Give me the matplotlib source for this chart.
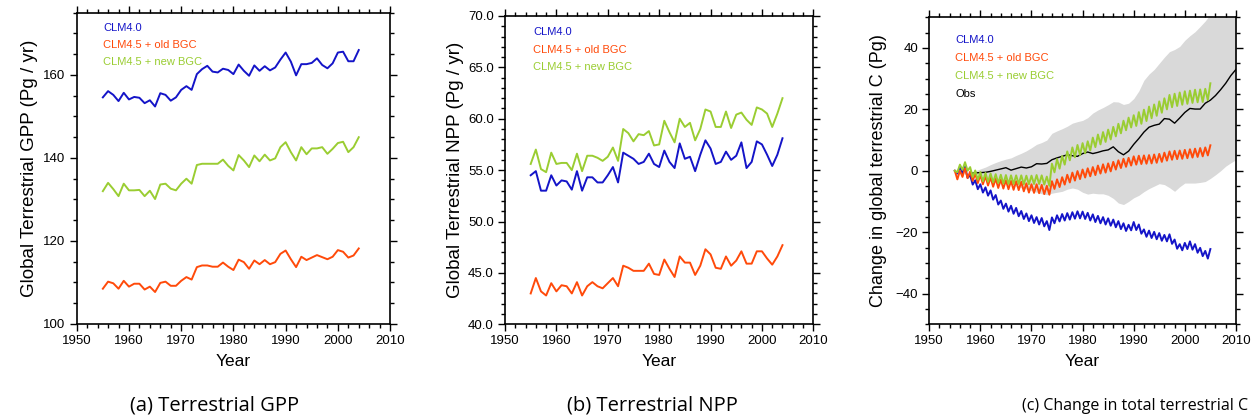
import numpy as np
import matplotlib.pyplot as plt
from matplotlib.ticker import MultipleLocator, FormatStrFormatter

plt.rcParams['font.family'] = ['Liberation Sans', 'DejaVu Sans']

# colores de las tres simulaciones
c_clm40 = '#1414c8'
c_old = '#ff4a0a'
c_new = '#9acd32'

# (a) y (b): valores anuales 1955-2004
years_ab = list(range(1955, 2005))

gpp_clm40 = [154.6, 156.1, 155.2, 153.7, 155.7, 154.1, 154.7, 154.5, 153.2, 153.9,
             152.4, 155.6, 155.2, 153.8, 154.6, 156.4, 157.3, 156.4, 160.2, 161.4,
             162.2, 160.8, 160.6, 161.5, 161.2, 160.2, 162.5, 161.0, 159.8, 162.3,
             161.0, 162.1, 161.1, 161.8, 163.7, 165.4, 163.2, 159.9, 162.6, 162.6,
             162.9, 164.0, 162.4, 161.6, 162.8, 165.4, 165.6, 163.3, 163.3, 166.0]
gpp_old = [108.5, 110.2, 109.8, 108.5, 110.4, 109.0, 109.7, 109.7, 108.3, 109.0,
           107.7, 109.9, 110.2, 109.2, 109.2, 110.4, 111.3, 110.7, 113.7, 114.1,
           114.1, 113.8, 113.8, 114.8, 113.8, 113.0, 115.5, 114.9, 113.3, 115.3,
           114.4, 115.4, 114.4, 114.9, 116.9, 117.7, 115.6, 113.7, 116.2, 115.4,
           116.0, 116.6, 116.1, 115.6, 116.2, 117.8, 117.4, 116.0, 116.5, 118.2]
gpp_new = [132.0, 134.0, 132.5, 130.8, 133.8, 132.2, 132.2, 132.3, 130.8, 132.1,
           130.1, 133.6, 133.8, 132.6, 132.2, 133.8, 135.0, 133.8, 138.3, 138.6,
           138.6, 138.6, 138.6, 139.6, 138.1, 137.0, 140.7, 139.4, 137.8, 140.6,
           139.2, 140.8, 139.4, 139.9, 142.6, 143.8, 141.4, 139.4, 142.6, 140.9,
           142.3, 142.3, 142.6, 141.0, 142.2, 143.6, 143.9, 141.4, 142.6, 145.0]

npp_clm40 = [54.5, 54.9, 53.0, 53.0, 54.5, 53.5, 54.0, 53.9, 53.1, 54.9,
             53.0, 54.3, 54.3, 53.8, 53.8, 54.5, 55.3, 53.8, 56.7, 56.4,
             56.1, 55.6, 55.8, 56.6, 55.6, 55.3, 56.9, 55.8, 55.2, 57.6,
             56.1, 56.3, 54.9, 56.5, 57.9, 57.1, 55.6, 55.8, 56.8, 56.0,
             56.4, 57.7, 55.2, 55.8, 57.8, 57.5, 56.5, 55.4, 56.5, 58.1]
npp_old = [43.0, 44.5, 43.2, 42.8, 44.0, 43.2, 43.8, 43.7, 43.0, 44.1,
           42.8, 43.7, 44.1, 43.7, 43.5, 44.0, 44.5, 43.7, 45.7, 45.5,
           45.2, 45.2, 45.2, 45.9, 44.9, 44.8, 46.3, 45.4, 44.6, 46.6,
           46.0, 46.0, 44.8, 45.7, 47.3, 46.8, 45.5, 45.4, 46.6, 45.7,
           46.2, 47.1, 45.9, 45.9, 47.1, 47.1, 46.4, 45.8, 46.6, 47.7]
npp_new = [55.6, 57.0, 55.1, 54.8, 56.7, 55.6, 55.7, 55.7, 55.0, 56.6,
           54.9, 56.4, 56.4, 56.2, 55.9, 56.3, 57.2, 55.9, 59.0, 58.6,
           57.8, 58.5, 58.4, 58.8, 57.4, 57.5, 59.8, 58.7, 57.7, 60.0,
           59.2, 59.6, 57.9, 59.0, 60.9, 60.7, 59.2, 59.2, 60.7, 59.1,
           60.4, 60.6, 59.9, 59.4, 61.1, 60.9, 60.5, 59.2, 60.5, 62.0]

# (c): cambio en C terrestre, dos valores por anio (1955.0 ... 2005.0)
time_c = np.arange(1955, 2005.01, 0.5)

dc_clm40 = [0.0, -0.9, 1.3, -0.8, 1.3, -2.3, -1.4, -4.5, -3.1, -6.0,
            -4.4, -7.1, -5.4, -8.1, -6.4, -9.4, -7.9, -11.0, -9.7, -12.4,
            -10.7, -13.3, -11.4, -14.0, -12.1, -14.8, -13.1, -15.7, -13.9, -16.4,
            -14.5, -17.0, -15.1, -17.5, -15.4, -18.1, -16.4, -19.3, -15.2, -17.1,
            -14.5, -16.5, -14.1, -16.2, -13.8, -15.9, -13.5, -15.6, -13.2, -15.5,
            -13.3, -15.7, -13.7, -16.2, -14.2, -16.7, -14.7, -17.1, -15.1, -17.5,
            -15.5, -17.9, -15.9, -18.4, -16.4, -19.0, -17.1, -19.6, -17.6, -19.4,
            -16.7, -19.3, -17.5, -20.5, -19.1, -21.5, -19.5, -21.9, -19.9, -22.3,
            -20.3, -22.8, -20.9, -23.0, -20.7, -23.8, -22.4, -25.4, -23.9, -25.9,
            -23.5, -25.5, -23.0, -25.7, -23.9, -26.7, -25.1, -27.8, -26.1, -28.6,
            -25.5]
dc_old = [0.0, -2.8, 0.0, -2.0, 0.8, -2.4, -0.3, -3.3, -0.9, -4.0,
          -1.4, -4.4, -1.8, -4.8, -2.2, -5.2, -2.6, -5.6, -2.9, -5.8,
          -3.1, -6.0, -3.3, -6.2, -3.4, -6.3, -3.6, -6.7, -4.1, -7.1,
          -4.4, -7.2, -4.4, -7.3, -4.6, -7.6, -4.9, -7.8, -3.4, -5.9,
          -2.8, -5.3, -2.1, -4.5, -1.3, -3.8, -0.6, -3.2, -0.1, -2.7,
          0.4, -2.2, 0.8, -1.8, 1.2, -1.4, 1.7, -0.9, 2.1, -0.6,
          2.4, -0.2, 2.9, 0.4, 3.4, 0.9, 3.9, 1.3, 4.2, 1.7,
          4.7, 2.0, 4.9, 2.2, 5.0, 2.3, 5.1, 2.4, 5.3, 2.6,
          5.5, 2.9, 5.9, 3.3, 6.3, 3.6, 6.5, 3.8, 6.6, 3.9,
          6.8, 4.1, 7.0, 4.3, 7.2, 4.5, 7.4, 4.7, 7.6, 5.0,
          8.3]
dc_new = [0.0, -0.5, 2.0, 0.3, 2.8, 0.0, 1.2, -2.0, 0.1, -2.9,
          -0.4, -3.4, -0.7, -3.6, -0.9, -3.8, -1.1, -4.0, -1.3, -4.2,
          -1.4, -4.3, -1.5, -4.3, -1.5, -4.3, -1.5, -4.4, -1.6, -4.4,
          -1.6, -4.3, -1.4, -4.3, -1.5, -4.5, -1.9, -4.9, 2.3, -0.5,
          3.8, 0.7, 4.8, 2.0, 6.3, 3.4, 7.6, 4.4, 8.4, 5.1,
          9.0, 5.7, 9.6, 6.6, 10.8, 7.7, 11.8, 8.6, 12.6, 9.4,
          13.4, 10.2, 14.3, 11.2, 15.3, 12.2, 16.3, 13.2, 17.3, 14.1,
          18.1, 14.6, 19.1, 15.3, 19.9, 16.2, 20.9, 17.1, 21.6, 17.9,
          22.6, 18.9, 23.6, 20.0, 24.7, 20.7, 25.1, 21.1, 25.5, 21.5,
          25.9, 21.8, 26.1, 22.1, 26.4, 22.3, 26.5, 22.4, 26.7, 23.0,
          28.5]

# observaciones y su banda de incertidumbre, 1958-2010
years_obs = list(range(1958, 2011))
obs = [-0.8, -0.7, -0.6, -0.5, -0.2, 0.2, 0.6, 1.0, 0.2, 0.7,
       1.2, 0.9, 1.3, 2.3, 2.2, 2.4, 3.6, 4.2, 4.7, 5.2,
       4.9, 4.7, 5.6, 6.1, 5.6, 6.0, 6.5, 6.8, 7.8, 6.2,
       5.2, 6.4, 8.6, 10.5, 12.6, 14.2, 14.8, 15.2, 17.0, 16.8,
       15.5, 17.2, 19.0, 20.3, 20.1, 20.1, 22.0, 23.0, 24.5, 26.4,
       28.5, 31.0, 33.0]
obs_hi = [-0.8, 0.0, 0.6, 1.2, 2.0, 2.7, 3.3, 3.8, 4.2, 5.0,
          5.7, 6.5, 7.5, 8.6, 9.2, 10.0, 12.2, 13.0, 13.7, 14.5,
          15.5, 16.0, 16.4, 17.3, 18.8, 19.8, 20.6, 21.5, 22.5, 22.4,
          21.6, 22.0, 23.5, 26.0, 29.5, 31.5, 33.0, 35.0, 37.0, 38.8,
          39.5, 40.5, 42.5, 44.0, 45.3, 47.0, 48.8, 51.0, 53.0, 55.0,
          57.0, 58.0, 59.0]
obs_lo = [-0.8, -1.0, -1.5, -2.0, -2.5, -3.0, -3.5, -4.0, -4.5, -5.0,
          -5.5, -6.0, -6.5, -7.0, -7.5, -7.8, -7.3, -7.0, -6.7, -6.0,
          -5.6, -6.0, -7.0, -7.6, -7.3, -7.5, -7.5, -8.0, -9.0, -10.5,
          -11.0, -10.0, -8.8, -8.0, -6.8, -5.8, -5.0, -4.2, -4.5, -5.5,
          -6.7, -5.2, -4.0, -4.0, -4.0, -3.8, -3.5, -2.5, -1.3, 0.0,
          1.5, 2.6, 3.6]

labels = ['CLM4.0', 'CLM4.5 + old BGC', 'CLM4.5 + new BGC']
colors = [c_clm40, c_old, c_new]

fig = plt.figure(figsize=(12.6, 4.2), dpi=100)
ax_a = fig.add_axes([0.0609, 0.2286, 0.2487, 0.7412])
ax_b = fig.add_axes([0.4008, 0.2279, 0.2447, 0.7341])
ax_c = fig.add_axes([0.7375, 0.2279, 0.2434, 0.7310])


def estilo(ax, ymin, ymax, ymaj, ymin_step):
    ax.set_xlim(1950, 2010)
    ax.set_ylim(ymin, ymax)
    ax.xaxis.set_major_locator(MultipleLocator(10))
    ax.xaxis.set_minor_locator(MultipleLocator(2))
    ax.yaxis.set_major_locator(MultipleLocator(ymaj))
    ax.yaxis.set_minor_locator(MultipleLocator(ymin_step))
    ax.tick_params(which='both', direction='out', top=True, right=True,
                   labelsize=9.5, width=1.0, pad=3)
    ax.tick_params(which='major', length=5)
    ax.tick_params(which='minor', length=3)
    for s in ax.spines.values():
        s.set_linewidth(1.2)
    ax.set_xlabel('Year', fontsize=12.5, labelpad=5)


def leyenda(ax, x0, y0, dy, names, cols):
    for i, (n, c) in enumerate(zip(names, cols)):
        ax.text(x0, y0 - i * dy, n, color=c, fontsize=8, transform=ax.transAxes,
                va='center', ha='left')


# (a) GPP
for serie, c in zip([gpp_clm40, gpp_old, gpp_new], colors):
    ax_a.plot(years_ab, serie, color=c, lw=1.4)
estilo(ax_a, 100, 175, 20, 5)
ax_a.set_ylabel('Global Terrestrial GPP (Pg / yr)', fontsize=13.5, labelpad=4)
leyenda(ax_a, 0.084, 0.950, 0.055, labels, colors)

# (b) NPP
for serie, c in zip([npp_clm40, npp_old, npp_new], colors):
    ax_b.plot(years_ab, serie, color=c, lw=1.4)
estilo(ax_b, 40, 70, 5, 1)
ax_b.yaxis.set_major_formatter(FormatStrFormatter('%.1f'))
ax_b.set_ylabel('Global Terrestrial NPP (Pg / yr)', fontsize=13.5, labelpad=3)
leyenda(ax_b, 0.092, 0.947, 0.056, labels, colors)

# (c) cambio en C
ax_c.fill_between(years_obs, obs_lo, obs_hi, color='#d9d9d9', lw=0)
ax_c.plot(years_obs, obs, color='black', lw=1.0)
for serie, c in zip([dc_clm40, dc_old, dc_new], colors):
    ax_c.plot(time_c, serie, color=c, lw=1.4)
estilo(ax_c, -50, 50, 20, 5)
ax_c.set_ylabel('Change in global terrestrial C (Pg)', fontsize=13, labelpad=6)
leyenda(ax_c, 0.084, 0.926, 0.0586, labels + ['Obs'], colors + ['black'])

# subtitulos
cap = dict(family=['Open Sans', 'DejaVu Sans'], ha='center', va='center')
fig.text(215 / 1260, 1 - 406 / 420, '(a) Terrestrial GPP', fontsize=14.5, **cap)
fig.text(652 / 1260, 1 - 406 / 420, '(b) Terrestrial NPP', fontsize=14.5, **cap)
fig.text(1135 / 1260, 1 - 406 / 420, '(c) Change in total terrestrial C', fontsize=11.5, **cap)

fig.savefig('out.png', dpi=100)
